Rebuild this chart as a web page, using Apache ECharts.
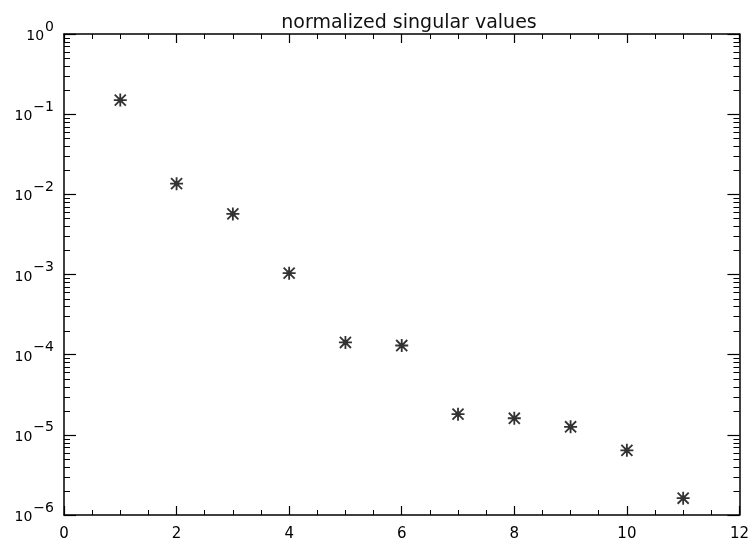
<!DOCTYPE html>
<html>
<head>
<meta charset="utf-8">
<script src="https://cdn.jsdelivr.net/npm/echarts@6/dist/echarts.min.js"></script>
<style>
  html, body { margin: 0; padding: 0; background: #fff; }
  #chart { width: 752px; height: 544px; }
</style>
</head>
<body>
<div id="chart"></div>
<script>
// Singular value index and normalized singular values
const indices = [1, 2, 3, 4, 5, 6, 7, 8, 9, 10, 11];
const singularValues = [1.50e-1, 1.36e-2, 5.7e-3, 1.04e-3, 1.42e-4, 1.30e-4,
                        1.81e-5, 1.61e-5, 1.26e-5, 6.4e-6, 1.62e-6];

// Axis ranges and tick definitions
const xTicks = [0, 2, 4, 6, 8, 10, 12];
const decadeExponents = [-6, -5, -4, -3, -2, -1, 0];
const minorMultipliers = [2, 3, 4, 5, 6, 7, 8, 9];

const titleText = 'normalized singular values';
const fontFamily = '"DejaVu Sans", "Liberation Sans", sans-serif';

// Logarithmic minor tick values between decades
const minorTickValues = [];
for (let i = 0; i < decadeExponents.length - 1; i++) {
  for (const m of minorMultipliers) {
    minorTickValues.push([0, m * Math.pow(10, decadeExponents[i])]);
  }
}

// Eight-armed asterisk marker with a solid centre
const asteriskPath = 'path://' +
  'M8.6,0 L11.4,0 L11.4,20 L8.6,20 Z ' +
  'M0,8.6 L20,8.6 L20,11.4 L0,11.4 Z ' +
  'M0.5,2.5 L2.5,0.5 L19.5,17.5 L17.5,19.5 Z ' +
  'M17.5,0.5 L19.5,2.5 L2.5,19.5 L0.5,17.5 Z ' +
  'M6,6 L14,6 L14,14 L6,14 Z';

const chart = echarts.init(document.getElementById('chart'), null, { renderer: 'canvas' });

const axisLine = { show: true, onZero: false, lineStyle: { color: '#000', width: 1.5 } };

const xAxisCommon = {
  type: 'value',
  min: xTicks[0],
  max: xTicks[xTicks.length - 1],
  interval: xTicks[1] - xTicks[0],
  axisLine: axisLine,
  axisTick: { show: true, inside: true, length: 9, lineStyle: { color: '#000', width: 1.2 } },
  minorTick: { show: true, splitNumber: 4, length: 5, lineStyle: { color: '#000', width: 1 } },
  splitLine: { show: false },
  minorSplitLine: { show: false }
};

const yAxisCommon = {
  type: 'log',
  logBase: 10,
  min: Math.pow(10, decadeExponents[0]),
  max: Math.pow(10, decadeExponents[decadeExponents.length - 1]),
  splitNumber: decadeExponents.length - 1,
  axisLine: axisLine,
  axisTick: { show: true, inside: true, length: 12, lineStyle: { color: '#000', width: 1.2 } },
  splitLine: { show: false }
};

chart.setOption({
  backgroundColor: '#fff',
  animation: false,
  title: {
    text: titleText,
    left: 404,
    textAlign: 'center',
    top: 9,
    textStyle: { fontFamily: fontFamily, fontSize: 19, fontWeight: 'normal', color: '#111' }
  },
  grid: { left: 64, right: 10, top: 34, bottom: 29, containLabel: false },
  xAxis: [
    Object.assign({}, xAxisCommon, {
      position: 'bottom',
      axisLabel: {
        show: true, margin: 12, color: '#000', fontFamily: fontFamily, fontSize: 15,
        formatter: v => String(v)
      }
    }),
    Object.assign({}, xAxisCommon, {
      position: 'top',
      axisLabel: { show: false }
    })
  ],
  yAxis: [
    Object.assign({}, yAxisCommon, {
      position: 'left',
      axisLabel: {
        show: true, margin: 10, color: '#000',
        formatter: function (v) {
          const e = Math.round(Math.log10(v));
          const sup = e < 0 ? '\u2212' + Math.abs(e) : String(e);
          return '{b|10}{s|' + sup + '}';
        },
        rich: {
          b: { fontFamily: fontFamily, fontSize: 14, color: '#000', padding: [5, 0, 0, 0] },
          s: { fontFamily: fontFamily, fontSize: 14, color: '#000', padding: [0, 0, 14, 1] }
        }
      }
    }),
    Object.assign({}, yAxisCommon, {
      position: 'right',
      axisLabel: { show: false }
    })
  ],
  series: [
    {
      type: 'scatter',
      xAxisIndex: 0,
      yAxisIndex: 0,
      symbol: asteriskPath,
      symbolSize: 13,
      itemStyle: { color: '#000' },
      data: indices.map((x, i) => [x, singularValues[i]])
    },
    {
      // minor logarithmic ticks on left and right frame edges
      type: 'custom',
      xAxisIndex: 0,
      yAxisIndex: 0,
      silent: true,
      clip: false,
      encode: { x: 0, y: 1 },
      data: minorTickValues,
      renderItem: function (params, api) {
        const cs = params.coordSys;
        const y = Math.round(api.coord([0, api.value(1)])[1]) + 0.5;
        const len = 6;
        const style = { stroke: '#000', lineWidth: 1 };
        return {
          type: 'group',
          children: [
            { type: 'line', shape: { x1: cs.x, y1: y, x2: cs.x + len, y2: y }, style: style },
            { type: 'line', shape: { x1: cs.x + cs.width - len, y1: y, x2: cs.x + cs.width, y2: y }, style: style }
          ]
        };
      }
    }
  ]
});
</script>
</body>
</html>
